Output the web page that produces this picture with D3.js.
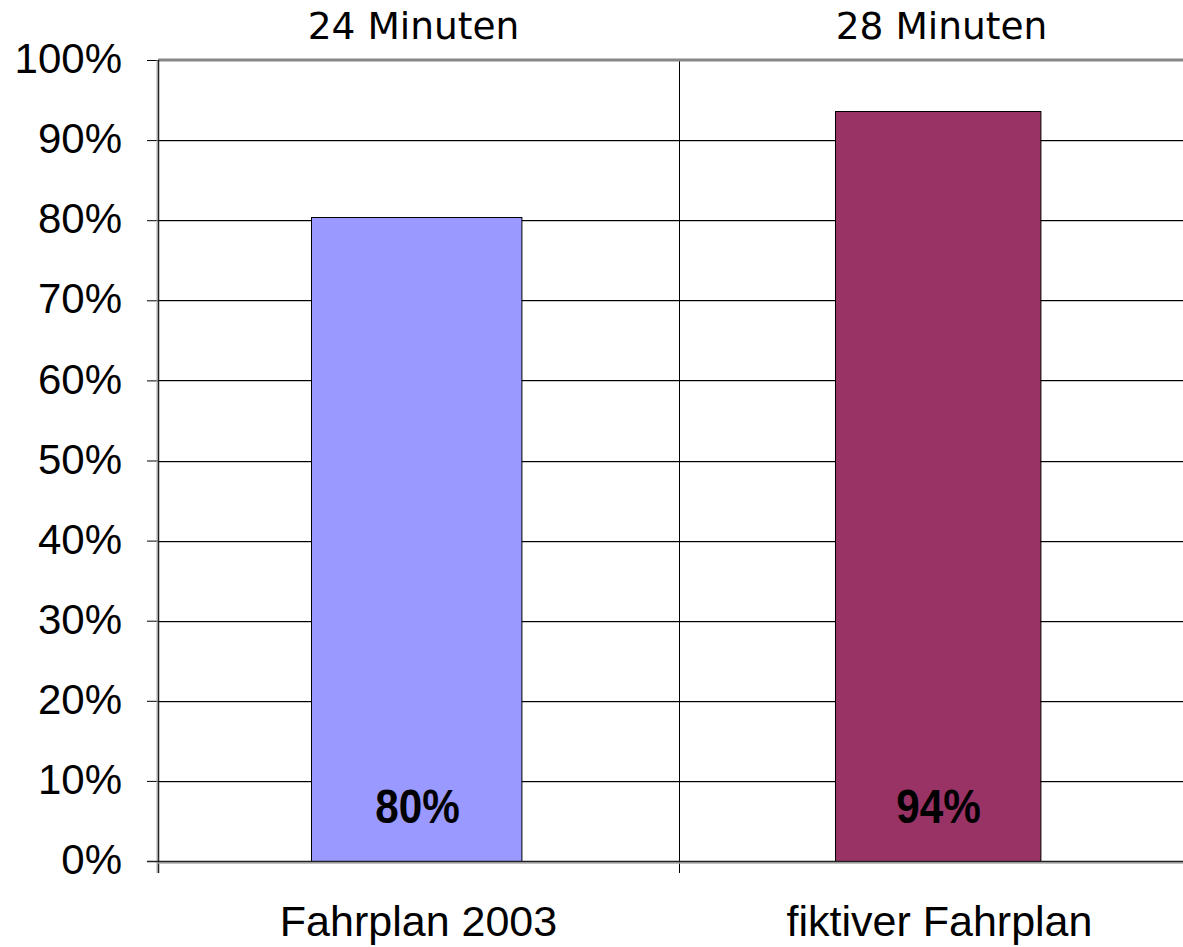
<!DOCTYPE html>
<html>
<head>
<meta charset="utf-8">
<script src="https://cdn.jsdelivr.net/npm/d3@7"></script>
<style>
  html, body { margin: 0; padding: 0; background: #fff; }
  svg { display: block; }
</style>
</head>
<body>
<svg id="chart" width="1183" height="947"></svg>
<script>
// Share of on-time trips for two timetables
const categories = ["Fahrplan 2003", "fiktiver Fahrplan"];
const values = [0.804, 0.936];
const topLabels = ["24 Minuten", "28 Minuten"];
const barColors = ["#9999FF", "#993366"];
const yTicks = [0, 0.1, 0.2, 0.3, 0.4, 0.5, 0.6, 0.7, 0.8, 0.9, 1.0];

const svg = d3.select("#chart");
const plotLeft = 158, plotRight = 1200, plotTop = 60, plotBottom = 861;

const x = d3.scaleBand()
  .domain(categories)
  .range([plotLeft, plotRight])
  .paddingInner(0.6)
  .paddingOuter(0.3);

const y = d3.scaleLinear().domain([0, 1]).range([plotBottom, plotTop]);

const pct = d3.format(".0%");
const inner = yTicks.filter(d => d > 0 && d < 1);

// horizontal gridlines with a faint shadow underneath
const grid = svg.append("g");
grid.selectAll("line.shadow")
  .data(inner)
  .join("line")
  .attr("class", "shadow")
  .attr("x1", plotLeft).attr("x2", plotRight)
  .attr("y1", d => Math.round(y(d)) + 1.5).attr("y2", d => Math.round(y(d)) + 1.5)
  .attr("stroke", "#c8c8c8").attr("stroke-width", 1);
grid.selectAll("line.main")
  .data(inner)
  .join("line")
  .attr("class", "main")
  .attr("x1", plotLeft).attr("x2", plotRight)
  .attr("y1", d => Math.round(y(d)) + 0.5).attr("y2", d => Math.round(y(d)) + 0.5)
  .attr("stroke", "#000").attr("stroke-width", 1);

// vertical separators between categories
const seps = [plotLeft + x.step()];
svg.append("g").selectAll("line")
  .data(seps)
  .join("line")
  .attr("x1", d => Math.round(d) + 0.5).attr("x2", d => Math.round(d) + 0.5)
  .attr("y1", plotTop).attr("y2", plotBottom + 12)
  .attr("stroke", "#000").attr("stroke-width", 1);

// top border of the plot area
svg.append("line")
  .attr("x1", plotLeft).attr("x2", plotRight)
  .attr("y1", plotTop).attr("y2", plotTop)
  .attr("stroke", "#888").attr("stroke-width", 3);

// bars
const barShift = [-3, 0];
svg.append("g").selectAll("rect")
  .data(categories)
  .join("rect")
  .attr("x", (d, i) => Math.round(x(d)) + 0.5 + barShift[i])
  .attr("y", (d, i) => Math.round(y(values[i])) + 0.5)
  .attr("width", (d, i) => x.bandwidth() + (i === 0 ? 2 : -3))
  .attr("height", (d, i) => plotBottom - Math.round(y(values[i])))
  .attr("fill", (d, i) => barColors[i])
  .attr("stroke", "#000").attr("stroke-width", 1);

// value labels inside the bars (condensed bold)
svg.append("g").selectAll("text")
  .data(categories)
  .join("text")
  .attr("transform", d => `translate(${x(d) + x.bandwidth() / 2 - 1},823) scale(0.88,1)`)
  .attr("text-anchor", "middle")
  .attr("font-family", "'Liberation Sans Narrow', 'Arial Narrow', 'Liberation Sans', sans-serif")
  .attr("font-weight", "bold")
  .attr("font-size", 48)
  .attr("fill", "#000")
  .text((d, i) => pct(values[i]));

// duration labels above the plot
const topShift = [-5, 2];
svg.append("g").selectAll("text")
  .data(categories)
  .join("text")
  .attr("x", (d, i) => x(d) + x.bandwidth() / 2 + topShift[i])
  .attr("y", 39)
  .attr("text-anchor", "middle")
  .attr("font-family", "'DejaVu Sans', Verdana, sans-serif")
  .attr("font-size", 37.5)
  .attr("fill", "#000")
  .text((d, i) => topLabels[i]);

// y axis
const yAxis = svg.append("g")
  .attr("transform", `translate(${plotLeft},0)`)
  .call(d3.axisLeft(y).tickValues(yTicks).tickFormat(pct).tickSize(11).tickPadding(25));
yAxis.select(".domain").remove();
yAxis.selectAll(".tick line").attr("stroke", "#000");
yAxis.selectAll(".tick text")
  .attr("font-family", "'Liberation Sans', Arial, sans-serif")
  .attr("font-size", 42)
  .attr("dy", "0.3em")
  .attr("fill", "#000");

// left axis line with shadow
svg.append("line")
  .attr("x1", plotLeft - 1).attr("x2", plotLeft - 1)
  .attr("y1", plotTop).attr("y2", plotBottom + 12)
  .attr("stroke", "#aaa").attr("stroke-width", 1);
svg.append("line")
  .attr("x1", plotLeft + 0.5).attr("x2", plotLeft + 0.5)
  .attr("y1", plotTop).attr("y2", plotBottom + 12)
  .attr("stroke", "#222").attr("stroke-width", 1.5);

// x axis: category names below the plot
const xAxis = svg.append("g")
  .attr("transform", `translate(0,${plotBottom})`)
  .call(d3.axisBottom(x).tickSize(0));
xAxis.select(".domain").remove();
xAxis.selectAll(".tick text")
  .attr("y", 75)
  .attr("dy", null)
  .attr("font-family", "'Liberation Sans', Arial, sans-serif")
  .attr("font-size", 43)
  .attr("fill", "#000");

svg.append("line")
  .attr("x1", plotLeft).attr("x2", plotRight)
  .attr("y1", plotBottom + 2).attr("y2", plotBottom + 2)
  .attr("stroke", "#aaa").attr("stroke-width", 1.5);
svg.append("line")
  .attr("x1", plotLeft - 11).attr("x2", plotRight)
  .attr("y1", plotBottom + 0.5).attr("y2", plotBottom + 0.5)
  .attr("stroke", "#222").attr("stroke-width", 1.5);
</script>
</body>
</html>
